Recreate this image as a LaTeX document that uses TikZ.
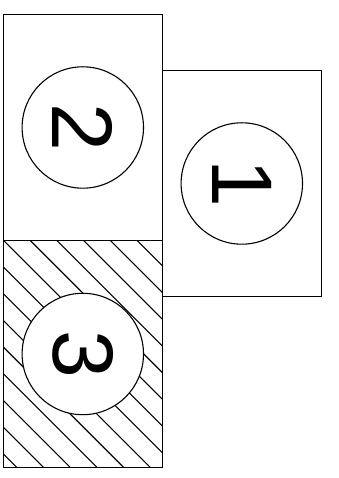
\documentclass[tikz,border=0pt]{standalone}
\usepackage{fontspec}
\setmainfont{Liberation Sans}
\usetikzlibrary{positioning}

\begin{document}
\begin{tikzpicture}[
  x=1pt, y=1pt,
  panel/.style={draw=black, line width=1.3pt, minimum width=159pt, minimum height=226.5pt, outer sep=0pt, inner sep=0pt},
  hatch/.style={line width=1.1pt, black},
  disc/.style={circle, draw=black, line width=1.1pt, fill=white, minimum size=121.4pt, inner sep=0pt, rotate=-90, font=\fontsize{86}{86}\selectfont}
]
  \useasboundingbox (0,0) rectangle (338,478);

  \node[panel] (box2) at (82.8,350.5) {};
  \node[panel, below=0pt of box2, path picture={
      \foreach \k in {0,...,15} {
        \pgfmathsetmacro{\d}{-13.3+26.7*\k}
        \draw[hatch] ([xshift=\d pt]path picture bounding box.south west) -- ++(-240,240);
      }}] (box3) {};
  \node[panel, right=0pt of box2, yshift=-56pt] (box1) {};

  \node[disc] (n2) at (box2) {2};
  \node[disc] (n1) at (box1) {1};
  \node[disc] (n3) at (box3) {3};
\end{tikzpicture}
\end{document}
